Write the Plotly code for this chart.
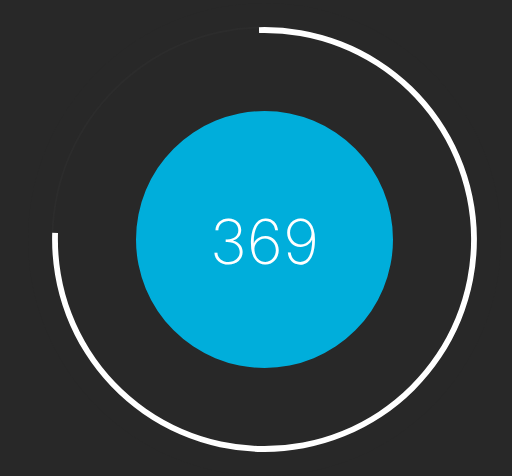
import plotly.graph_objects as go

# gauge data
value = 369
gauge_max = 486
label = '369'

# derived arc span (degrees) of the value part and the remaining track
value_deg = value / gauge_max * 360
rest_deg = 360 - value_deg

bg = '#282828'
blue = '#00AEDB'

fig = go.Figure()

# faint track for the rest of the gauge
fig.add_trace(go.Barpolar(
    r=[0.008], base=[0.893], theta=[value_deg + rest_deg / 2], width=[rest_deg],
    marker=dict(color='#2c2c2c', line=dict(width=0)), hoverinfo='skip'))

# value arc
fig.add_trace(go.Barpolar(
    r=[5.8 / 236.5], base=[206.6 / 236.5], theta=[value_deg / 2], width=[value_deg],
    marker=dict(color='white', line=dict(width=0)), hoverinfo='skip'))

# blue disc in the middle
fig.add_trace(go.Barpolar(
    r=[128.5 / 236.5], base=[0], theta=[180], width=[360],
    marker=dict(color=blue, line=dict(width=0)), hoverinfo='skip'))

fig.update_layout(
    width=512, height=476,
    margin=dict(l=0, r=0, t=0, b=0),
    paper_bgcolor=bg, plot_bgcolor=bg,
    showlegend=False,
    polar=dict(
        domain=dict(x=[28 / 512, 501 / 512], y=[0, 473 / 476]),
        bgcolor=bg,
        hole=0,
        radialaxis=dict(range=[0, 1], visible=False),
        angularaxis=dict(visible=False, rotation=91.5, direction='clockwise'),
    ),
    annotations=[dict(
        text=label, x=264.5 / 512, y=1 - 241 / 476, xref='paper', yref='paper',
        showarrow=False, xanchor='center', yanchor='middle',
        font=dict(family='Inter', size=62, color='white', weight=200))],
)

# drop the default page margin so the chart fills the window
fig.write_html('out.html', config={'displayModeBar': False},
               post_script="document.body.style.margin='0';document.body.style.background='#282828';")
